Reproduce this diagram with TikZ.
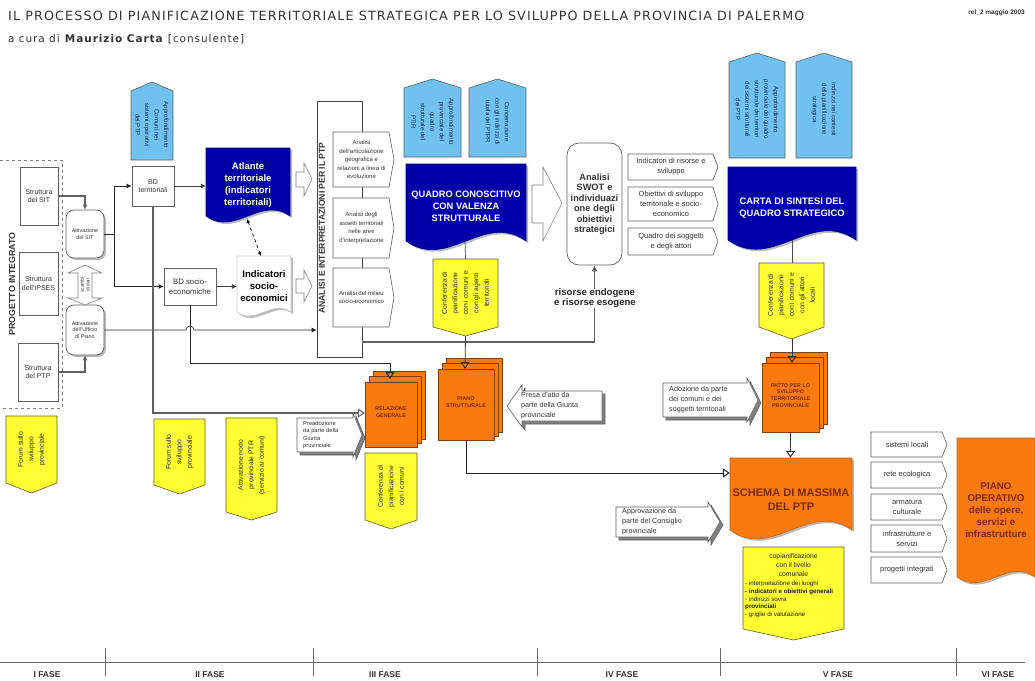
\documentclass[tikz,border=0pt]{standalone}
\usepackage{fontspec}
\setmainfont{Liberation Sans}
\newfontfamily\titlefont[LetterSpace=9]{DejaVu Sans}
\usetikzlibrary{arrows.meta,fit,shadows,calc}
\definecolor{docblue}{HTML}{0000A8}
\definecolor{lightblue}{HTML}{70C0F0}
\definecolor{flagyellow}{HTML}{FFFF33}
\definecolor{planorange}{HTML}{FA7A10}
\definecolor{inkgray}{HTML}{333333}
\definecolor{linegray}{HTML}{606060}
\definecolor{darkred}{HTML}{7A2A00}
\definecolor{navyink}{HTML}{1A2A50}
\tikzset{
  x=1pt,y=-1pt,
  every node/.style={text=inkgray,inner sep=0pt},
  fa/.style={font=\fontsize{5.4}{6.6}\selectfont,align=center},
  fb/.style={font=\fontsize{7}{8.6}\selectfont,align=center},
  plainbox/.style={draw=linegray,fill=white,line width=.7pt},
  softshadow/.style={drop shadow={shadow xshift=2pt,shadow yshift=-2pt,opacity=.55,fill=gray}},
  tagline/.style={draw=linegray,fill=white,line width=.6pt},
  tagfont/.style={font=\fontsize{7.5}{9.6}\selectfont,align=center},
  callfont/.style={font=\fontsize{7.2}{10}\selectfont},
  flowblack/.style={draw=black!85,line width=.9pt,-{Latex[length=5pt,width=5pt]}},
  flowgray/.style={draw=linegray,line width=1.5pt},
  openhead/.style={-{Triangle[open,length=7pt,width=9pt,line width=1pt]}},
  holarrow/.style={draw=gray,fill=white,line width=.6pt},
  phaselabel/.style={font=\fontsize{8.5}{10}\selectfont\bfseries,text=inkgray},
}
% invisible named frame over a drawn shape
\newcommand{\frameit}[5]{\path (#2,#3) coordinate (#1-a) (#4,#5) coordinate (#1-b);\node[fit=(#1-a)(#1-b),inner sep=0pt] (#1) {};}
% right pointing tag
\newcommand{\TagR}[6]{\draw[tagline] (#2,#3) -- ({#4-5},#3) -- (#4,{(#3+#5)/2}) -- ({#4-5},#5) -- (#2,#5) -- cycle;
  \frameit{#1}{#2}{#3}{#4}{#5}\node[tagfont] (#1-t) at ({(#2+#4)/2-2},{(#3+#5)/2}) {#6};}
% flag pointing down, text turned
\newcommand{\FlagD}[7]{\draw[draw=olive!60!black,fill=flagyellow,line width=.6pt] (#2,#3) -- (#4,#3) -- (#4,#5) -- ({(#2+#4)/2},#6) -- (#2,#5) -- cycle;
  \frameit{#1}{#2}{#3}{#4}{#6}\node[align=center,font=\fontsize{6.8}{10.5}\selectfont,text=black!85,rotate=90] (#1-t) at ({(#2+#4)/2},{(#3+#5)/2}) {#7};}
% flag pointing up, text turned
\newcommand{\FlagU}[6]{\draw[draw=linegray,fill=lightblue,line width=.6pt] (#2,#5) -- (#2,{#3+9}) -- ({(#2+#4)/2},#3) -- (#4,{#3+9}) -- (#4,#5) -- cycle;
  \frameit{#1}{#2}{#3}{#4}{#5}\node[align=center,font=\fontsize{6.1}{9.5}\selectfont,text=navyink,rotate=-90] (#1-t) at ({(#2+#4)/2},{(#3+#5)/2+4}) {#6};}
% document with wavy bottom: name x0 y0 x1 y1 fill textstyle text
\newcommand{\DocShape}[8]{\draw[draw=#6!80!black,fill=#6,line width=.6pt,softshadow] (#2,#3) -- (#4,#3) -- (#4,#5)
   .. controls ({#2+.65*(#4-#2)},{#5-.25*(#4-#2)}) and ({#2+.35*(#4-#2)},{#5+.25*(#4-#2)}) .. (#2,#5) -- cycle;
  \frameit{#1}{#2}{#3}{#4}{#5}\node[#7] (#1-t) at ({(#2+#4)/2},{(#3+#5)/2}) {#8};}
% stacked orange sheets: name x0 y0 x1 y1 text
\newcommand{\Stack}[6]{\foreach \s in {8,4,0}{\draw[draw=black!50!orange,fill=planorange,line width=.6pt] ({#2+\s},{#3-\s*1.4}) rectangle ({#4+\s},{#5-\s});}
  \frameit{#1}{#2}{#3}{#4}{#5}\node[align=center,text=darkred,font=\fontsize{5.4}{6.8}\selectfont\bfseries] (#1-t) at ({(#2+#4)/2},{(#3+#5)/2-2}) {#6};}
% call-out with arrow head to the right: name x0 y0 xbody y1 tip text
\newcommand{\CallR}[7]{\foreach \d/\c in {3/gray,0/white}{\draw[draw=linegray,fill=\c,line width=.6pt] ({#2+\d},{#3+\d}) -- ({#4+\d},{#3+\d}) -- ({#4+\d},{#3-5+\d}) -- ({#6+\d},{(#3+#5)/2+\d}) -- ({#4+\d},{#5+5+\d}) -- ({#4+\d},{#5+\d}) -- ({#2+\d},{#5+\d}) -- cycle;}
  \frameit{#1}{#2}{#3}{#6}{#5}\node[align=left,anchor=west,callfont] (#1-t) at ({#2+6},{(#3+#5)/2}) {#7};}
\begin{document}
\begin{tikzpicture}
\useasboundingbox (0,0) rectangle (1035,680);
\fill[white] (0,0) rectangle (1035,680);

% titles
\node[anchor=west,font=\titlefont\fontsize{12.7}{14}\selectfont] (title) at (8,16) {IL PROCESSO DI PIANIFICAZIONE TERRITORIALE STRATEGICA PER LO SVILUPPO DELLA PROVINCIA DI PALERMO};
\node[anchor=west,font=\titlefont\fontsize{10.5}{12}\selectfont] (subtitle) at (8,39) {a cura di \textbf{Maurizio Carta} [consulente]};
\node[anchor=east,font=\fontsize{6.5}{8}\selectfont\bfseries] (rel) at (1025,13) {rel\_2 maggio 2003};

% progetto integrato
\draw[gray,dashed,line width=.6pt] (0,160) -- (62,160) -- (62,408) -- (0,408);
\node[font=\fontsize{8.8}{10}\selectfont\bfseries,rotate=90] (progetto) at (12,284) {PROGETTO INTEGRATO};
\node[plainbox,minimum width=38pt,minimum height=58pt,fb] (ssit) at (39,196) {Struttura\\del SIT};
\node[plainbox,minimum width=39pt,minimum height=63pt,fb] (sipses) at (38.5,283.5) {Struttura\\dell'IPSES};
\node[plainbox,minimum width=40pt,minimum height=58pt,fb] (sptp) at (38,372) {Struttura\\del PTP};
\node[plainbox,rounded corners=8pt,softshadow,minimum width=38pt,minimum height=48pt,fa] (attsit) at (85,234) {Attivazione\\del SIT};
\node[plainbox,rounded corners=8pt,softshadow,minimum width=38pt,minimum height=50pt,fa] (attuff) at (85,330) {Attivazione\\dell'Ufficio\\di Piano};
\draw[holarrow] (85,265) -- (102,273) -- (92,273) -- (92,298) -- (102,298) -- (85,305) -- (68,298) -- (78,298) -- (78,273) -- (68,273) -- cycle;
\node[font=\fontsize{4.8}{5.8}\selectfont,align=center,rotate=90] (scambi) at (85,285) {scambi\\di dati};

% blue flags and BD boxes
\FlagU{fb1}{131}{82}{173}{160}{Approfondimento\\Comuni nei\\sistemi operativi\\del PTP}
\node[plainbox,minimum width=42pt,minimum height=40pt,fb] (bdt) at (153,186) {BD\\territoriali};
\node[plainbox,minimum width=52pt,minimum height=37pt,font=\fontsize{7.8}{10}\selectfont,align=center] (bds) at (190,286.5) {BD socio-\\economiche};
\DocShape{atlante}{206}{148}{290}{216}{docblue}{text=white,align=center,yshift=-3pt,font=\fontsize{9.5}{12}\selectfont\bfseries}{Atlante\\territoriale\\(indicatori\\territoriali)}
\DocShape{indic}{237}{256}{291}{312}{white}{text=black,align=center,yshift=-2pt,font=\fontsize{9.6}{12}\selectfont\bfseries}{Indicatori\\socio-\\economici}
\draw[holarrow] (296,172) -- (304,172) -- (304,163) -- (312,179) -- (304,196) -- (304,187) -- (296,187) -- cycle;
\draw[holarrow] (296,279) -- (304,279) -- (304,270) -- (312,286) -- (304,302) -- (304,293) -- (296,293) -- cycle;

% analisi
\node[plainbox,draw=black!75,minimum width=45pt,minimum height=256pt] (tall) at (339.5,229) {};
\node[font=\fontsize{8.6}{9}\selectfont\bfseries,rotate=90] (talltxt) at (322,228) {ANALISI E INTERPRETAZIONI PER IL PTP};
\tikzset{tagfont/.style={font=\fontsize{6}{8.4}\selectfont,align=center}}
\TagR{a1}{333}{132}{394}{187}{Analisi\\dell'articolazione\\geografica e\\relazioni a linea di\\evoluzione}
\TagR{a2}{333}{198}{394}{258}{Analisi degli\\assetti territoriali\\nelle aree\\d'interpretazione}
\TagR{a3}{333}{268}{394}{327}{Analisi del milieu\\socio-economico}
\tikzset{tagfont/.style={font=\fontsize{7.5}{10}\selectfont,align=center}}

% quadro
\FlagU{fb2}{404}{79}{461}{157}{Approfondimento\\provinciale del\\quadro\\strutturale del\\PTIR}
\FlagU{fb3}{469}{79}{526}{157}{Concertazione\\con gli indirizzi di\\tutela del PTPR}
\DocShape{quadro}{406}{164}{526}{241}{docblue}{text=white,yshift=-4pt,font=\fontsize{9.3}{12}\selectfont\bfseries,align=center}{QUADRO CONOSCITIVO\\CON VALENZA\\STRUTTURALE}
\draw[holarrow] (532,185) -- (543,185) -- (543,167) -- (562,203) -- (543,241) -- (543,223) -- (532,223) -- cycle;
\node[plainbox,rounded corners=12pt,minimum width=55pt,minimum height=122pt,text width=54pt,align=center,font=\fontsize{9.2}{10.5}\selectfont\bfseries] (swot) at (594.5,204) {Analisi\\SWOT e\\individuazi\\one degli\\obiettivi\\strategici};
\TagR{i1}{628}{154}{718}{180}{Indicatori di risorse e\\sviluppo}
\TagR{i2}{628}{187}{718}{221}{Obiettivi di sviluppo\\territoriale e socio-\\economico}
\TagR{i3}{628}{228}{718}{255}{Quadro dei soggetti\\e degli attori}

% carta
\FlagU{fb4}{729}{53}{785}{158}{Approfondimento\\provinciale del quadro\\strutturale dei territori\\dei sistemi strutturali\\dei PTP}
\FlagU{fb5}{796}{53}{852}{158}{Indirizzi nei contesti\\della pianificazione\\strategica}
\DocShape{carta}{728}{167}{856}{240}{docblue}{text=white,yshift=-5pt,font=\fontsize{9.4}{12}\selectfont\bfseries,align=center}{CARTA DI SINTESI DEL\\QUADRO STRATEGICO}

% yellow flags
\FlagD{y1}{433}{259}{498}{327}{336}{Conferenza di\\pianificazione\\con i comuni e\\con gli agenti\\territoriali}
\FlagD{y2}{759}{263}{824}{327}{339}{Conferenza di\\pianificazione\\con i comuni e\\con gli attori\\locali}
\FlagD{y3}{6}{416}{57}{483}{493}{Forum sullo\\sviluppo\\provinciale}
\FlagD{y4}{154}{419}{205}{485}{494}{Forum sullo\\sviluppo\\provinciale}
\FlagD{y5}{226}{418}{277}{512}{520}{Attivazione nodo\\provinciale PTR\\(servizio ai comuni)}
\FlagD{y6}{365}{453}{417}{520}{529}{Conferenza di\\pianificazione\\con i comuni}

% plans
\Stack{relaz}{365}{382}{417}{447}{RELAZIONE\\GENERALE}
\Stack{piano}{438}{369}{494}{440}{PIANO\\STRUTTURALE}
\Stack{patto}{762}{363}{819}{432}{PATTO PER LO\\SVILUPPO\\TERRITORIALE\\PROVINCIALE}
\DocShape{schema}{730}{458}{852}{530}{planorange}{text=darkred,yshift=-6pt,font=\fontsize{11}{14}\selectfont\bfseries,align=center}{SCHEMA DI MASSIMA\\DEL PTP}
\DocShape{operativo}{957}{438}{1035}{577}{planorange}{text=darkred,yshift=-3pt,font=\fontsize{9.8}{12}\selectfont\bfseries,align=center}{PIANO\\OPERATIVO\\delle opere,\\servizi e\\infrastrutture}

% copianificazione
\draw[draw=olive!60!black,fill=flagyellow,line width=.6pt] (743,547) -- (844,547) -- (844,629) -- (793.5,640) -- (743,629) -- cycle;
\frameit{copian}{743}{547}{844}{640}
\node[align=center,font=\fontsize{6.8}{9.2}\selectfont,text=black!85] (copiantop) at (793.5,565) {copianificazione\\con il livello\\comunale};
\node[align=left,font=\fontsize{6.2}{7.7}\selectfont,text=black!90,anchor=north west] (copianlist) at (745,581) {- interpretazione dei luoghi\\\textbf{- indicatori e obiettivi generali}\\- indirizzi sovra\\\textbf{provinciali}\\- griglie di valutazione};

% right tags
\TagR{r1}{871}{432}{947}{457}{sistemi locali}
\TagR{r2}{871}{462}{947}{488}{rete ecologica}
\TagR{r3}{871}{494}{947}{520}{armatura\\culturale}
\TagR{r4}{871}{525}{947}{552}{infrastrutture e\\servizi}
\TagR{r5}{871}{557}{947}{583}{progetti integrati}

% call-outs
\begin{scope}
\tikzset{callfont/.style={font=\fontsize{5.8}{7.4}\selectfont}}
\CallR{preado}{297}{418}{353}{452}{362}{Preadozione\\da parte della\\Giunta\\provinciale}
\end{scope}
\foreach \d/\c in {3/gray,0/white}{\draw[draw=linegray,fill=\c,line width=.6pt] ({522+\d},{391+\d}) -- ({602+\d},{391+\d}) -- ({602+\d},{421+\d}) -- ({522+\d},{421+\d}) -- ({522+\d},{427+\d}) -- ({507+\d},{406+\d}) -- ({522+\d},{385+\d}) -- cycle;}
\frameit{presa}{507}{391}{602}{421}
\node[align=left,anchor=west,font=\fontsize{7.2}{10}\selectfont] (presatxt) at (521,406) {Presa d'atto da\\parte della Giunta\\provinciale};
\CallR{adoz}{663}{383}{747}{417}{758}{Adozione da parte\\dei comuni e dei\\soggetti territoriali}
\CallR{appr}{616}{507}{708}{537}{720}{Approvazione da\\parte del Consiglio\\provinciale}

% connectors
\draw[flowblack,draw=linegray,line width=1.3pt] (ssit.east) -| (attsit.north);
\draw[flowblack,draw=linegray,line width=1.3pt] (sptp.east) -| (attuff.south);
\coordinate (split) at (114,0);
\draw[flowblack] (attsit.east) -- (split |- attsit.east) |- (bdt.west);
\draw[flowblack] (attsit.east) -- (split |- attsit.east) |- (bds.west);
\draw[flowblack,draw=black!75,line width=.6pt] (bdt.east) -- (atlante.west |- bdt.east);
\draw[flowblack,draw=black!75,line width=.6pt] (bds.east) -- (indic.west |- bds.east);
\draw[dashed,line width=.7pt,{Latex[length=4pt,width=4pt]}-{Latex[length=4pt,width=4pt]}] (247,219) -- (261,256);
\coordinate (jump) at (bds.south |- attuff.east);
\draw[flowblack,line width=.6pt] (attuff.east) -- ([xshift=-4pt]jump) arc[start angle=180,end angle=0,radius=4pt] -- (tall.west |- attuff.east);
\draw[flowgray,openhead,draw=linegray] (bdt.south) |- (relaz.west |- 0,413);
\draw[draw=black!85,line width=1pt,openhead] (bds.south) |- (390,363) -- (390,379);
\coordinate (rtop) at (tall.east |- 0,342);
\draw[flowgray,-{Latex[length=6pt,width=6pt]}] (rtop) -| (swot.south);
\node[fill=white,align=center,font=\fontsize{9.6}{10}\selectfont\bfseries,text=black!85] (risorse) at (595,298) {risorse endogene\\e risorse esogene};
\draw[line width=.7pt,black!70] (465,241) -- (y1.north);
\draw[line width=.8pt,black!80,openhead] (y1.south) -- (465,369);
\draw[line width=.7pt,black!70] (792,240) -- (792,263);
\draw[line width=.8pt,black!80,openhead] (792,339) -- (792,363);
\draw[line width=.8pt,black!80,openhead] (patto.south) -- (schema.north -| patto.south);
\draw[black!85,line width=1pt,openhead] (piano.south) |- (schema.west |- 0,473);

% phases
\draw[gray!80!black,line width=.7pt] (0,662) -- (1025,662);
\foreach \x/\n in {105/t1,313/t2,537/t3,720/t4,956/t5}{\path (\x,648) coordinate (\n-a) (\x,676) coordinate (\n-b); \draw[gray!80!black,line width=.7pt] (\n-a) -- (\n-b);}
\node[phaselabel] (f1) at (47,675) {I FASE};
\node[phaselabel] (f2) at (210,675) {II FASE};
\node[phaselabel] (f3) at (385,675) {III FASE};
\node[phaselabel] (f4) at (622,675) {IV FASE};
\node[phaselabel] (f5) at (838,675) {V FASE};
\node[phaselabel] (f6) at (998,675) {VI FASE};
\end{tikzpicture}
\end{document}
